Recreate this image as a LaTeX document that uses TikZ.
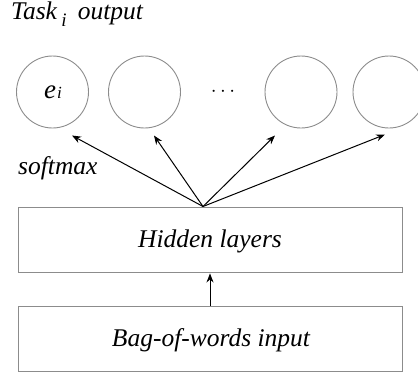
\documentclass[tikz,border=0pt]{standalone}
\usepackage{fontspec}
\setmainfont{Liberation Serif}
\usetikzlibrary{arrows.meta}
\begin{document}
\begin{tikzpicture}[x=1pt,y=-1pt,
  unit/.style={circle,draw=black!45,line width=0.9pt,minimum size=72pt,inner sep=0pt},
  layer/.style={rectangle,draw=black!45,line width=0.9pt,minimum width=384pt,minimum height=65pt,inner sep=0pt},
  lbl/.style={font=\fontsize{25.5}{30}\selectfont\itshape},
  link/.style={line width=1pt,-{Stealth[length=9pt,width=7pt]}}]
\useasboundingbox (0,0) rectangle (418,373);
\clip (0,0) rectangle (418,373);

% output title
\node[lbl,anchor=base west,inner sep=0pt] (title) at (11,19) {Task\,\raisebox{-7pt}{\fontsize{19}{22}\selectfont i}\;\,output};

% output units
\node[unit] (u1) at (52.5,92) {};
\node[anchor=base,inner sep=0pt,font=\fontsize{27}{30}\selectfont\itshape] (ei) at (53,98) {e\kern1pt{\fontsize{17}{20}\selectfont i}};
\node[unit] (u2) at (144.5,92) {};
\node[font=\fontsize{22}{26}\selectfont] (dots) at (223,92) {$\cdots$};
\node[unit] (u3) at (301,92) {};
\node[unit] (u4) at (389,92) {};

% layers
\node[layer] (hid) at (210,239.5) {};
\node[lbl] (hidt) at (210,241) {Hidden layers};
\node[layer] (bow) at (210,339) {};
\node[lbl] (bowt) at (211,340) {Bag-of-words input};

\node[lbl,anchor=west,inner sep=0pt] (sm) at (18,168) {softmax};

% connectors
\coordinate (hub) at (203,206.5);
\coordinate (t1) at (72,135.5);
\coordinate (t2) at (154,135.5);
\coordinate (t3) at (275,135.5);
\coordinate (t4) at (385,134.5);
\foreach \t in {t1,t2,t3,t4} \draw[link] (hub) -- (\t);
\draw[link] (bow.north -| 210,0) -- ([yshift=-1pt]hid.south -| 210,0);
\end{tikzpicture}
\end{document}
